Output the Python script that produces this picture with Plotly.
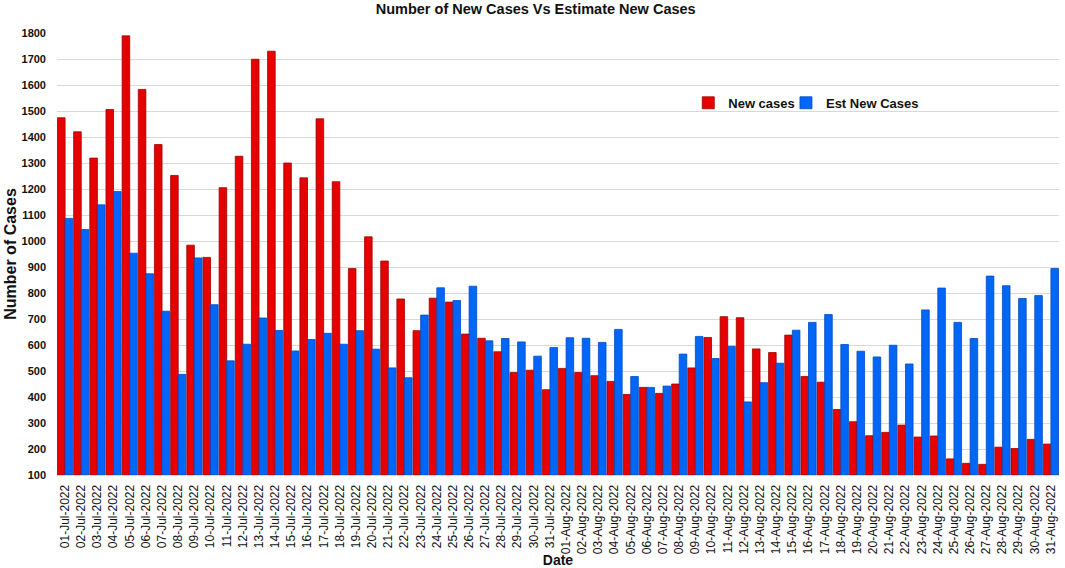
import plotly.graph_objects as go

dates_jul = [f"{d:02d}-Jul-2022" for d in range(1, 32)]
dates_aug = [f"{d:02d}-Aug-2022" for d in range(1, 32)]
dates = dates_jul + dates_aug

new_cases = [1474, 1420, 1319, 1506, 1789, 1583, 1371, 1252, 984, 937, 1205, 1326, 1699, 1730, 1300,
             1243, 1470, 1228, 894, 1016, 923, 777, 655, 780, 765, 642, 626, 574, 494, 503, 428,
             510, 494, 482, 460, 410, 437, 414, 450, 512, 629, 709, 705, 585, 571, 638,
             479, 457, 352, 305, 251, 264, 292, 246, 250, 162, 145, 141, 207, 202, 237, 219]

est_new_cases = [1087, 1044, 1139, 1190, 953, 874, 730, 487, 935, 755, 539, 603, 704, 656, 577,
                 621, 645, 603, 655, 584, 512, 474, 715, 820, 771, 826, 616, 625, 612, 557, 590,
                 628, 626, 610, 660, 479, 437, 442, 565, 633, 548, 595, 381, 455, 530, 657,
                 687, 717, 602, 576, 554, 599, 527, 735, 819, 687, 625, 865, 828, 779, 790, 894]

y_ticks = list(range(100, 1801, 100))

FONT = "Liberation Sans, Arial, sans-serif"

fig = go.Figure()
fig.add_trace(go.Bar(x=dates, y=[v - 100 for v in new_cases], base=100, name="New cases",
                     legend="legend",
                     marker=dict(color="#E60000", line=dict(color="#A00000", width=0.8)),
                     customdata=new_cases, hovertemplate="%{x}<br>%{customdata}<extra></extra>"))
fig.add_trace(go.Bar(x=dates, y=[v - 100 for v in est_new_cases], base=100, name="Est New Cases",
                     legend="legend2",
                     marker=dict(color="#0066F8", line=dict(color="#004AC0", width=0.8)),
                     customdata=est_new_cases, hovertemplate="%{x}<br>%{customdata}<extra></extra>"))

legend_common = dict(orientation="h", y=0.842, xanchor="left", yanchor="middle",
                     font=dict(family=FONT, size=13, color="#111", weight="bold"),
                     bgcolor="rgba(0,0,0,0)", itemwidth=30)

fig.update_layout(
    width=1065, height=568,
    margin=dict(l=57, r=6, t=33, b=93, autoexpand=False),
    paper_bgcolor="white", plot_bgcolor="white",
    barmode="group", bargap=0.06, bargroupgap=0.0,
    title=dict(text="Number of New Cases Vs Estimate New Cases", x=0.503, xanchor="center",
               y=1 - 9 / 568, yanchor="middle", automargin=False,
               font=dict(family=FONT, size=14.5, color="#111", weight="bold")),
    font=dict(family=FONT, color="#111"),
    legend=dict(x=0.63, **legend_common),
    legend2=dict(x=0.7275, **legend_common),
    showlegend=True,
)

fig.update_yaxes(range=[100, 1800], tickvals=y_ticks, ticktext=[str(v) for v in y_ticks],
                 automargin=False,
                 showgrid=True, gridcolor="#D9D9D9", gridwidth=1.3, zeroline=False,
                 tickfont=dict(family=FONT, size=11, color="#111", weight="bold"),
                 ticklabelstandoff=10,
                 title=dict(text="Number of Cases", standoff=0,
                            font=dict(family=FONT, size=16, color="#111", weight="bold")),
                 showline=False, ticks="")
fig.update_xaxes(tickangle=-90, tickfont=dict(family=FONT, size=12, color="#111"),
                 automargin=False, ticklabelstandoff=4,
                 showline=True, linecolor="#D9D9D9", linewidth=1, ticks="",
                 title=dict(text="Date", standoff=4,
                            font=dict(family=FONT, size=14, color="#111", weight="bold")))

fig.write_html("out.html", config={"displayModeBar": False},
               post_script="document.body.style.margin='0';")
